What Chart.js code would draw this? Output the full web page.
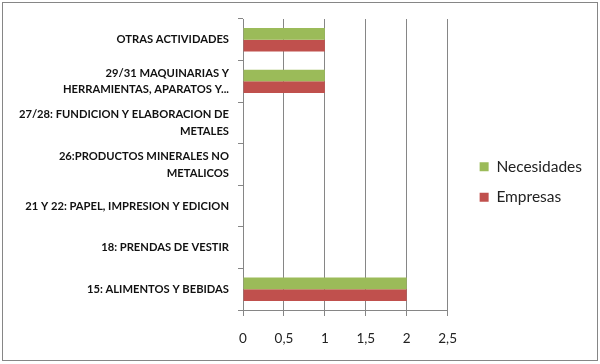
<!DOCTYPE html>
<html>
<head>
<meta charset="utf-8">
<script src="https://cdn.jsdelivr.net/npm/chart.js@4/dist/chart.umd.min.js"></script>
<style>
  html, body { margin: 0; padding: 0; background: #fff; }
  #wrap { position: relative; width: 600px; height: 364px; }
  #frame {
    position: absolute; left: 2px; top: 2px; width: 594px; height: 357px;
    border: 1px solid #868686; pointer-events: none;
  }
</style>
</head>
<body>
<div id="wrap">
  <canvas id="chart" width="600" height="364"></canvas>
  <div id="frame"></div>
</div>
<script>
const categories = [
  'OTRAS ACTIVIDADES',
  ['29/31 MAQUINARIAS Y', 'HERRAMIENTAS, APARATOS Y...'],
  ['27/28: FUNDICION Y ELABORACION DE', 'METALES'],
  ['26:PRODUCTOS MINERALES NO', 'METALICOS'],
  '21 Y 22: PAPEL, IMPRESION Y EDICION',
  '18: PRENDAS DE VESTIR',
  '15: ALIMENTOS Y BEBIDAS'
];
const necesidades = [1, 1, 0, 0, 0, 0, 2];
const empresas = [1, 1, 0, 0, 0, 0, 2];
const xTicks = [0, 0.5, 1, 1.5, 2, 2.5];

const GRID = '#868686';
const FONT = 'Lato, "Liberation Sans", sans-serif';

const ctx = document.getElementById('chart').getContext('2d');
new Chart(ctx, {
  type: 'bar',
  data: {
    labels: categories,
    datasets: [
      { label: 'Necesidades', data: necesidades, backgroundColor: '#9BBB59' },
      { label: 'Empresas', data: empresas, backgroundColor: '#C0504D' }
    ]
  },
  options: {
    indexAxis: 'y',
    responsive: false,
    animation: false,
    datasets: { bar: { categoryPercentage: 0.563, barPercentage: 1 } },
    // bottom padding also lifts the legend's vertical centre
    layout: { padding: { top: 19, bottom: 19, left: 0, right: 8 } },
    scales: {
      x: {
        min: 0,
        max: 2.5,
        afterBuildTicks: scale => { scale.ticks = xTicks.map(v => ({ value: v })); },
        afterFit: scale => { scale.height = 35; },
        grid: { color: GRID, tickLength: 6, tickColor: GRID },
        border: { color: GRID },
        ticks: {
          padding: 15,
          color: '#222',
          font: { family: FONT, size: 13.5 },
          callback: v => String(v).replace('.', ',')
        }
      },
      y: {
        afterFit: scale => { scale.width = 243; },
        grid: { drawOnChartArea: false, color: GRID, tickLength: 5, offset: true },
        border: { color: GRID },
        ticks: {
          padding: 9,
          color: '#111',
          font: { family: FONT, size: 11.2, weight: 'bold', lineHeight: 1.5 }
        }
      },
      // hidden axis used only as empty space between plot area and legend
      gap: {
        type: 'category',
        position: 'right',
        axis: 'y',
        display: false,
        afterFit: scale => { scale.width = 17; }
      }
    },
    plugins: {
      tooltip: { enabled: false },
      legend: {
        position: 'right',
        labels: {
          boxWidth: 9,
          boxHeight: 9,
          padding: 15,
          color: '#222',
          font: { family: FONT, size: 15.5 }
        }
      }
    }
  }
});
</script>
</body>
</html>
